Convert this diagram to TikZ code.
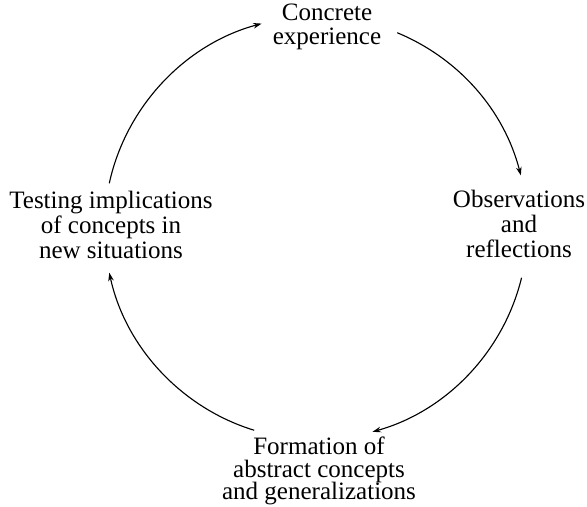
\documentclass[tikz,border=0pt]{standalone}
\usepackage{fontspec}
\setmainfont{Liberation Serif}
\usepackage{tikz}
\usetikzlibrary{arrows.meta, calc}

\begin{document}
\begin{tikzpicture}[x=0.025cm, y=0.025cm, >={Stealth[length=6pt, width=4pt]},
    stage/.style={align=center, inner sep=0pt, font=\fontsize{17.8}{#1}\selectfont},
    stage/.default=16.6,
    cyc/.style={->, line width=0.8pt, looseness=0.91}]
    \useasboundingbox (0,0) rectangle (587,507);
    % the four stages
    \node[stage] (concrete) at (327,480) {Concrete\\experience};
    \node[stage=17.8] (observe) at (519,283) {Observations\\and\\reflections};
    \node[stage=16.2] (abstract) at (319,36) {Formation of\\abstract concepts\\and generalizations};
    \node[stage=17.6] (testing) at (111,282) {Testing implications\\of concepts in\\new situations};
    % ends of the arcs on the circle
    \coordinate (hub) at (316,279);
    \foreach \n/\a in {s1/167.8, e1/104.9, s2/67.4, e2/14.4, s3/-13.6, e3/-74.5, s4/-107, e4/-167.8}
        \coordinate (\n) at ($(hub)+(\a:211.5)$);
    \draw[cyc] (s1) to[bend left=31.4] (e1);
    \draw[cyc] (s2) to[bend left=26.5] (e2);
    \draw[cyc] (s3) to[bend left=30.4] (e3);
    \draw[cyc] (s4) to[bend left=30.4] (e4);
\end{tikzpicture}
\end{document}
